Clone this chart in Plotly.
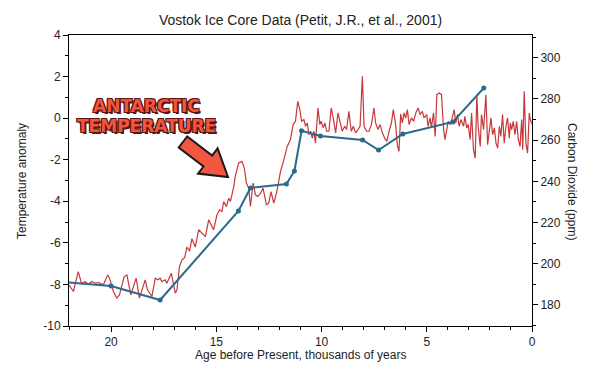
import plotly.graph_objects as go

# ---------------- data ----------------
temp_age = [22.05, 21.95, 21.79, 21.56, 21.40, 21.24, 21.08, 20.92, 20.76, 20.60, 20.37, 20.16, 20.05,
            19.89, 19.73, 19.60, 19.38, 19.25, 19.06, 18.81, 18.65, 18.38, 18.27, 18.06, 17.90, 17.79,
            17.67, 17.59, 17.43, 17.35, 17.14, 16.95, 16.87, 16.75, 16.63, 16.50, 16.40, 16.27, 16.16,
            16.00, 15.84, 15.68, 15.52, 15.36, 15.25, 15.13, 14.97, 14.84, 14.73, 14.65, 14.52, 14.41,
            14.33, 14.17, 14.10, 13.94, 13.78, 13.67, 13.57, 13.46, 13.38, 13.25, 13.14, 13.03, 12.90,
            12.78, 12.62, 12.51, 12.40, 12.27, 12.14, 12.03, 11.95, 11.79, 11.63, 11.48, 11.35, 11.24,
            11.13, 11.03, 10.95, 10.84, 10.76, 10.68, 10.60, 10.52, 10.44, 10.36, 10.29, 10.17, 10.08,
            10.02, 9.92, 9.84, 9.76, 9.65, 9.54, 9.46, 9.33, 9.22, 9.13, 9.02, 8.90, 8.81, 8.70, 8.59,
            8.49, 8.38, 8.27, 8.17, 8.06, 7.98, 7.86, 7.75, 7.63, 7.51, 7.43, 7.32, 7.22, 7.11, 7.00,
            6.90, 6.79, 6.68, 6.59, 6.48, 6.40, 6.32, 6.24, 6.16, 6.08, 6.00, 5.92, 5.84, 5.73, 5.63,
            5.52, 5.41, 5.32, 5.21, 5.13, 5.00, 4.94, 4.84, 4.78, 4.68, 4.60, 4.52, 4.41, 4.30, 4.21,
            4.14, 4.05, 3.98, 3.89, 3.81, 3.70, 3.62, 3.54, 3.46, 3.38, 3.25, 3.19, 3.10, 3.03, 2.94,
            2.87, 2.78, 2.70, 2.62, 2.56, 2.46, 2.40, 2.30, 2.19, 2.11, 2.03, 1.95, 1.87, 1.79, 1.71,
            1.63, 1.55, 1.48, 1.40, 1.32, 1.24, 1.16, 1.08, 1.03, 0.97, 0.89, 0.81, 0.73, 0.65, 0.57,
            0.49, 0.44, 0.37, 0.29, 0.21, 0.13, 0.08, 0.00]
temp_anom = [-8.00, -8.10, -8.34, -7.38, -7.97, -7.86, -7.99, -7.86, -7.94, -7.91, -8.02, -7.54, -7.78,
             -8.34, -8.66, -8.50, -7.62, -7.54, -8.50, -7.70, -8.66, -7.78, -8.26, -8.58, -7.70, -7.78,
             -7.70, -7.86, -7.78, -7.94, -7.46, -8.42, -8.26, -7.14, -6.82, -6.70, -6.20, -6.40, -5.80,
             -6.20, -5.37, -5.55, -5.70, -4.89, -5.13, -5.37, -4.65, -4.41, -4.49, -4.01, -4.25, -3.85,
             -4.01, -3.29, -2.80, -2.16, -2.08, -2.40, -3.12, -3.37, -4.25, -3.12, -3.69, -3.77, -3.61,
             -3.37, -4.17, -4.09, -3.53, -4.09, -3.61, -2.96, -2.56, -2.00, -1.36, -1.04, -0.31, -0.15,
             0.81, 0.41, -0.15, -0.07, -0.39, -0.23, -0.80, -0.63, -0.96, -0.63, -1.20, 0.49, -0.31,
             -0.15, -0.47, -0.23, -0.63, -0.63, 0.49, 0.08, -0.71, 0.25, -0.15, -0.63, -0.39, -0.55, 0.33,
             -0.63, -0.39, -0.71, -0.55, -0.39, 2.02, -0.39, -0.63, -0.63, -0.31, 0.49, -0.23, -0.55,
             -0.31, -0.71, -0.96, -1.12, -0.63, -0.23, 0.41, -0.31, -1.30, -1.60, 0.20, -0.23, 0.25,
             0.01, 0.41, -0.31, 0.01, -0.15, 0.25, 0.49, 0.17, 0.33, 0.01, 0.17, -0.39, 0.01, -0.47,
             0.25, -0.88, 1.13, 1.21, 1.13, -0.39, -1.04, -0.55, -0.15, -0.31, -0.07, 0.41, -0.23, 0.17,
             -0.39, -0.07, -0.39, 0.09, -0.47, -0.31, -1.04, 0.25, -1.52, -1.92, 1.13, -0.39, -1.36,
             0.17, -0.55, 1.13, -1.28, -0.64, 0.01, -0.80, -0.47, -1.20, -1.44, -0.39, -0.88, 0.17,
             -1.20, -0.39, 0.01, -0.96, -0.23, -0.55, -0.15, -0.80, -0.15, -1.04, -1.36, -0.07, -1.52,
             1.29, -1.20, -1.68, 0.25, -0.07, -0.30]

co2_age = [22.3, 20.0, 17.67, 13.95, 13.38, 11.67, 11.29, 10.95, 10.05, 8.05, 7.29, 6.14, 3.76, 2.29]
co2_ppm = [191.2, 189.2, 182.4, 225.6, 236.8, 238.7, 245.0, 264.5, 262.0, 260.1, 255.2, 263.0, 268.8, 285.3]

temp_ticks = [4, 2, 0, -2, -4, -6, -8, -10]
temp_tick_labels = ["4", "2", "0", "-2", "-4", "-6", "-8", "-10"]
co2_ticks = [180, 200, 220, 240, 260, 280, 300]
age_ticks = [20, 15, 10, 5, 0]

title_text = "Vostok Ice Core Data (Petit, J.R., et al., 2001)"
x_title = "Age before Present, thousands of years"
y_title = "Temperature anomaly"
y2_title = "Carbon Dioxide (ppm)"
callout = ["ANTARCTIC", "TEMPERATURE"]

# ---------------- figure ----------------
# the page body has an 8px margin, so the figure sits at (8, 8) in the 590x372 window
OFF = 8
W, H = 590 - OFF, 372 - OFF
PLOT_L, PLOT_R, PLOT_T, PLOT_B = 69, 532, 35, 326      # plot area in window pixels
L, T = PLOT_L - OFF, PLOT_T - OFF
R, B = W - (PLOT_R - OFF), H - (PLOT_B - OFF)
PW, PH = PLOT_R - PLOT_L, PLOT_B - PLOT_T


def px(xp):
    return (xp - PLOT_L) / PW


def py(yp):
    return (PLOT_B - yp) / PH


FONT = "Liberation Sans, Arial, Helvetica, sans-serif"

fig = go.Figure()
fig.add_trace(go.Scatter(x=temp_age, y=temp_anom, mode="lines",
                         line=dict(color="#c8373a", width=1.2), yaxis="y", showlegend=False))
fig.add_trace(go.Scatter(x=co2_age, y=co2_ppm, mode="lines+markers",
                         line=dict(color="#2b6a8c", width=2),
                         marker=dict(color="#2b6a8c", size=5), yaxis="y2", showlegend=False))

axis_common = dict(showline=True, linecolor="black", linewidth=1, ticks="outside", ticklen=5,
                   tickcolor="black", showgrid=False, zeroline=False,
                   tickfont=dict(family=FONT, size=12, color="#222"))

fig.update_layout(
    width=W, height=H,
    margin=dict(l=L, r=R, t=T, b=B),
    paper_bgcolor="white", plot_bgcolor="white",
    title=dict(text=title_text, x=0.5, xref="paper", y=1 - (20 - OFF) / H, yref="container",
               xanchor="center", yanchor="middle", font=dict(family=FONT, size=14, color="#222")),
    xaxis=dict(range=[22, 0], tickvals=age_ticks, mirror=True,
               minor=dict(tickmode="linear", tick0=0, dtick=1, ticks="outside", ticklen=3,
                          tickcolor="black", showgrid=False),
               **axis_common),
    yaxis=dict(range=[-10, 4], tickvals=temp_ticks, ticktext=temp_tick_labels,
               minor=dict(tickmode="linear", tick0=0, dtick=1, ticks="outside", ticklen=3,
                          tickcolor="black", showgrid=False),
               **axis_common),
    yaxis2=dict(range=[169.8, 311], tickvals=co2_ticks, overlaying="y", side="right",
                minor=dict(tickmode="linear", tick0=0, dtick=10, ticks="outside", ticklen=3,
                           tickcolor="black", showgrid=False),
                **axis_common),
)

# axis titles
title_font = dict(family=FONT, size=12, color="#222")
fig.add_annotation(text=x_title, xref="paper", yref="paper", x=px(300), y=py(355),
                   xanchor="center", yanchor="middle", showarrow=False, font=title_font)
fig.add_annotation(text=y_title, xref="paper", yref="paper", x=px(22), y=py(181),
                   xanchor="center", yanchor="middle", textangle=-90, showarrow=False,
                   font=title_font)
fig.add_annotation(text=y2_title, xref="paper", yref="paper", x=px(572), y=py(181),
                   xanchor="center", yanchor="middle", textangle=90, showarrow=False,
                   font=title_font)

# callout text
shadow = ("1px 1px 0 #5a1610, -1px -1px 0 #5a1610, 1px -1px 0 #5a1610, "
          "-1px 1px 0 #5a1610, 2px 2px 0 #5a1610")
for label, yc in zip(callout, [106.0, 126.0]):
    fig.add_annotation(text=label, xref="paper", yref="paper", x=px(146), y=py(yc),
                       xanchor="center", yanchor="middle", showarrow=False,
                       font=dict(family="DejaVu Sans", size=17, color="#f2543f",
                                 weight="bold", shadow=shadow))

# callout block arrow
arrow_pts = [(187.3, 136.5), (212.1, 155.5), (217.6, 148.4), (228.0, 177.0),
             (198.0, 173.6), (203.5, 166.5), (178.7, 147.5)]
path = "M " + " L ".join(f"{px(a):.4f},{py(b):.4f}" for a, b in arrow_pts) + " Z"
fig.add_shape(type="path", path=path, xref="paper", yref="paper",
              fillcolor="#f4573f", line=dict(color="#1a1a1a", width=2), layer="above")

fig.write_html("out.html")
